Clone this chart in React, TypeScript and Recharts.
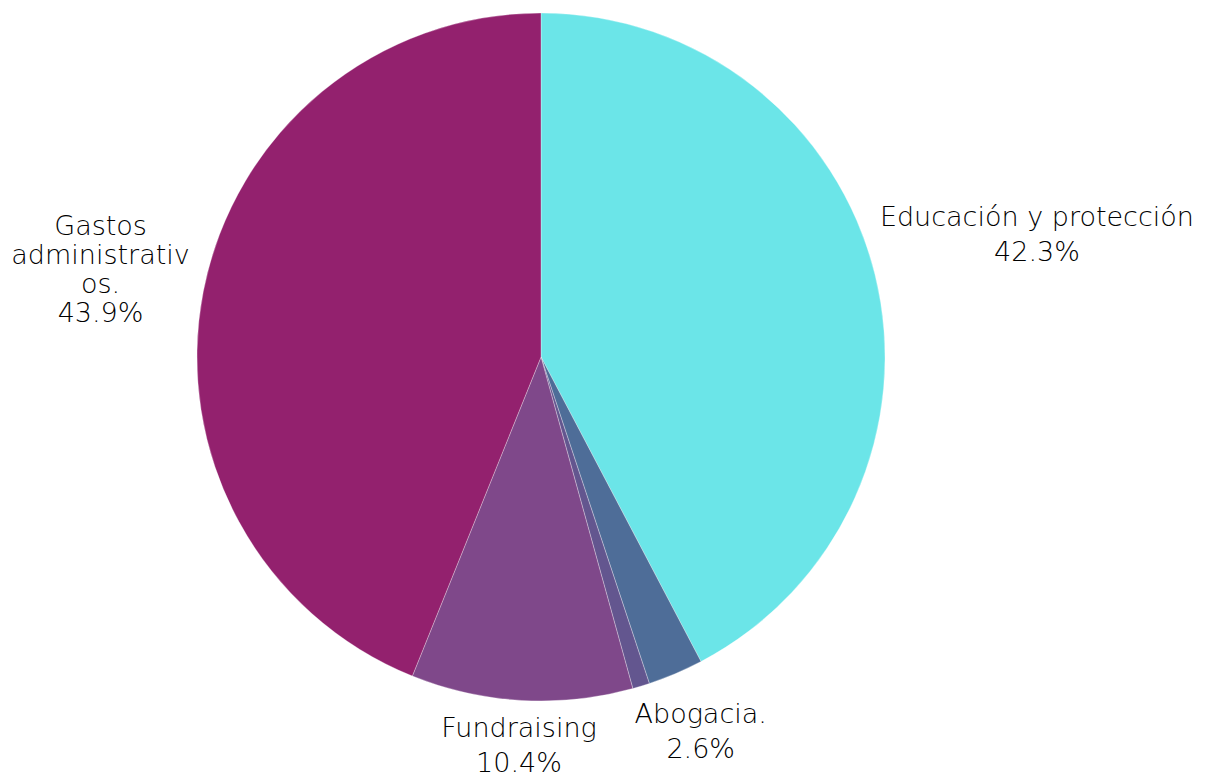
import React, { useEffect } from "react";
import { Cell, Pie, PieChart } from "recharts";

// Slice categories (clockwise from 12 o'clock)
const categories = [
  "Educación y protección",
  "Abogacia.",
  "Otros",
  "Fundraising",
  "Gastos administrativos.",
];
// Share of the total, in percent
const values = [42.3, 2.6, 0.8, 10.4, 43.9];
// Label text lines as they wrap in the original (empty = no label)
const labelLines = [
  ["Educación y protección"],
  ["Abogacia."],
  [],
  ["Fundraising"],
  ["Gastos", "administrativ", "os."],
];
const COLORS = ["#6BE5E8", "#4E6D98", "#63568F", "#7F488A", "#93216E"];

const FONT_FAMILY = "'DejaVu Sans', sans-serif";
const FONT_SIZE = 27;
const FONT_WEIGHT = 200;

const data = categories.map((name, i) => ({ name, value: values[i] }));

// measure text width with a canvas
let ctx: CanvasRenderingContext2D | null = null;
function textWidth(s: string) {
  if (!ctx) {
    ctx = document.createElement("canvas").getContext("2d");
  }
  if (!ctx) return s.length * FONT_SIZE * 0.6;
  ctx.font = `${FONT_WEIGHT} ${FONT_SIZE}px ${FONT_FAMILY}`;
  return ctx.measureText(s).width;
}

export default function App() {
  useEffect(() => {
    document.body.style.margin = "0";
  }, []);

  const renderLabel = ({
    cx,
    cy,
    midAngle,
    outerRadius,
    index,
    value,
  }: {
    cx: number;
    cy: number;
    midAngle: number;
    outerRadius: number;
    index: number;
    value: number;
  }) => {
    const name = labelLines[index];
    if (!name || name.length === 0) return null;
    const lines = [...name, `${value.toFixed(1)}%`];
    const RADIAN = Math.PI / 180;
    const ux = Math.cos(-midAngle * RADIAN);
    const uy = Math.sin(-midAngle * RADIAN);
    const lineH = lines.length > 2 ? 29 : 35;
    const w = Math.max(...lines.map(textWidth));
    const h = lineH * lines.length;
    // push the block out until its near edge clears the pie
    const extent = (Math.abs(ux) * w) / 2 + (Math.abs(uy) * h) / 2;
    const d = outerRadius + 6 + extent;
    const bx = cx + d * ux;
    const by = cy + d * uy;
    const top = by - h / 2;
    return (
      <text
        key={`lbl-${index}`}
        x={bx}
        y={top}
        textAnchor="middle"
        fill="#000"
        fontSize={FONT_SIZE}
        fontWeight={FONT_WEIGHT}
        fontFamily={FONT_FAMILY}
      >
        {lines.map((l, i) => (
          <tspan key={i} x={bx} y={top + lineH * i + lineH * 0.74}>
            {l}
          </tspan>
        ))}
      </text>
    );
  };

  return (
    <div style={{ width: 1206, height: 774, background: "#fff" }}>
      <PieChart
        width={1206}
        height={774}
        margin={{ top: 0, right: 0, bottom: 0, left: 0 }}
      >
        <Pie
          data={data}
          dataKey="value"
          nameKey="name"
          cx={541}
          cy={357}
          outerRadius={344}
          startAngle={90}
          endAngle={-270}
          stroke="#ffffff"
          strokeWidth={0.6}
          strokeOpacity={0.5}
          label={renderLabel}
          labelLine={false}
          isAnimationActive={false}
        >
          {data.map((entry, index) => (
            <Cell key={`cell-${index}`} fill={COLORS[index % COLORS.length]} />
          ))}
        </Pie>
      </PieChart>
    </div>
  );
}
